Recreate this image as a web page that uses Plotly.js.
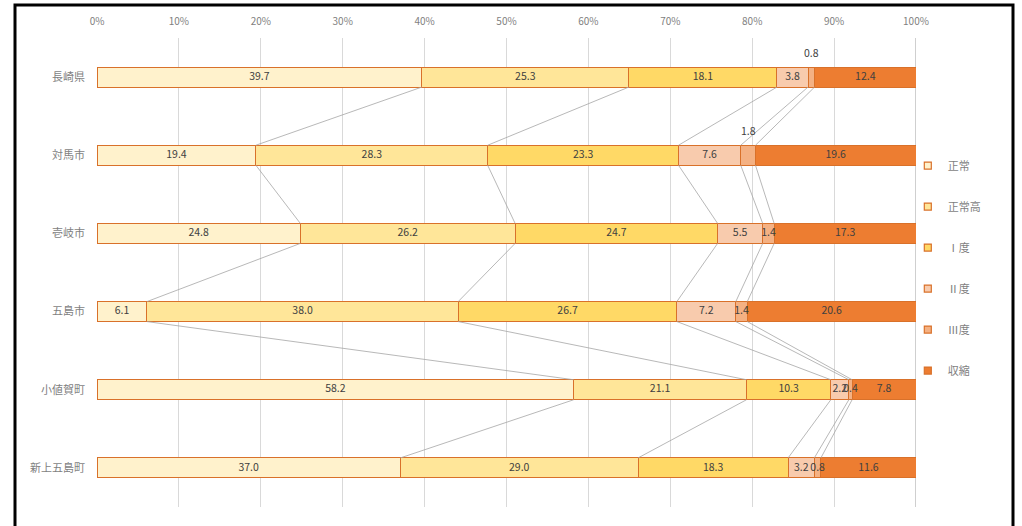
<!DOCTYPE html>
<html>
<head>
<meta charset="utf-8">
<script src="https://cdn.plot.ly/plotly-3.0.1.min.js"></script>
<style>html,body{margin:0;padding:0;background:#fff;}#chart{width:1022px;height:526px;}</style>
</head>
<body>
<div id="chart"></div>
<script>
const categories = ['長崎県','対馬市','壱岐市','五島市','小値賀町','新上五島町'];
const seriesNames = ['正常','正常高','Ⅰ度','Ⅱ度','Ⅲ度','収縮'];
const normal     = [39.7, 19.4, 24.8, 6.1, 58.2, 37.0];
const normalHigh = [25.3, 28.3, 26.2, 38.0, 21.1, 29.0];
const grade1     = [18.1, 23.3, 24.7, 26.7, 10.3, 18.3];
const grade2     = [3.8, 7.6, 5.5, 7.2, 2.2, 3.2];
const grade3     = [0.8, 1.8, 1.4, 1.4, 0.4, 0.8];
const systolic   = [12.4, 19.6, 17.3, 20.6, 7.8, 11.6];
const xTicks = [0,10,20,30,40,50,60,70,80,90,100];

const series = [normal, normalHigh, grade1, grade2, grade3, systolic];
const fills = ['#FFF2CC','#FFE699','#FFD966','#F8CBAD','#F4B183','#ED7D31'];
const edge = '#D9712A';
const barW = 0.256;
const yPos = categories.map((c,i)=>i);
const outsideIdx = {4: [0,1]};   // labels drawn above the bar
const FONT = 'Noto Sans CJK JP';

const traces = series.map((vals, s) => ({
  type: 'bar', orientation: 'h', name: seriesNames[s], showlegend: false,
  x: vals, y: yPos, width: barW,
  marker: {color: fills[s], line: {color: edge, width: 1}},
  hovertemplate: '%{y}: %{x}<extra>'+seriesNames[s]+'</extra>'
}));

// legend entries (small square markers like the reference)
series.forEach((vals, s) => traces.push({
  type: 'scatter', mode: 'markers', name: seriesNames[s], x: [null], y: [null],
  legendgroup: 'g'+s, hoverinfo: 'skip',
  marker: {symbol: 'square', size: 7, color: fills[s], line: {color: edge, width: 1.2}}
}));

// normalized cumulative boundaries (100% stacked)
const totals = categories.map((c,i)=> series.reduce((a,sv)=>a+sv[i],0));
const cum = [];
let run = categories.map(()=>0);
series.forEach((sv,k)=>{
  run = run.map((r,i)=> r + sv[i]/totals[i]*100);
  cum.push(run.slice());
});

// series lines
const lx = [], ly = [];
for (let k=0;k<series.length-1;k++){
  for (let i=0;i<categories.length-1;i++){
    lx.push(cum[k][i], cum[k][i+1], null);
    ly.push(yPos[i]+barW/2, yPos[i+1]-barW/2, null);
  }
}
traces.push({type:'scatter', mode:'lines', x: lx, y: ly, showlegend:false, hoverinfo:'skip',
  line:{color:'#A6A6A6', width:0.8}});

// data labels (drawn above all bars)
const tx = [], ty = [], tt = [];
series.forEach((sv,s)=>{
  sv.forEach((v,i)=>{
    if (outsideIdx[s] && outsideIdx[s].includes(i)) return;
    const start = s>0 ? cum[s-1][i] : 0;
    tx.push((start+cum[s][i])/2); ty.push(yPos[i]); tt.push(v.toFixed(1));
  });
});
traces.push({type:'scatter', mode:'text', x: tx, y: ty, text: tt, textposition:'middle center',
  showlegend:false, hoverinfo:'skip', cliponaxis:false,
  textfont:{size:10.5, color:'#404040', family:FONT}});

const annotations = [];
Object.keys(outsideIdx).forEach(s=>{
  s = +s;
  outsideIdx[s].forEach(i=>{
    const start = s>0 ? cum[s-1][i] : 0;
    annotations.push({x: (start+cum[s][i])/2, y: yPos[i]-barW/2, xref:'x', yref:'y',
      text: series[s][i].toFixed(1), showarrow:false, yanchor:'bottom', yshift: 5,
      font:{size:10.5, color:'#404040', family:FONT}});
  });
});

const layout = {
  width: 1022, height: 526,
  margin: {l: 97, r: 106, t: 38, b: 19},
  paper_bgcolor: '#fff', plot_bgcolor: '#fff',
  barmode: 'stack', barnorm: 'percent',
  font: {family: FONT, color: '#7F7F7F'},
  xaxis: {side: 'top', range: [0, 100], tickvals: xTicks, ticktext: xTicks.map(v=>v+'%'),
    showgrid: true, gridcolor: '#D9D9D9', gridwidth: 1, zeroline: false, showline: false,
    ticks: '', ticklabelstandoff: 10,
    tickfont: {size: 10, color: '#7F7F7F'}, fixedrange: true},
  yaxis: {range: [5.5, -0.5], tickvals: yPos, ticktext: categories, showgrid: false,
    zeroline: false, showline: false, ticks: '', ticklabelstandoff: 11,
    tickfont: {size: 11, color: '#7F7F7F'}, fixedrange: true},
  legend: {x: 0.99, xanchor: 'left', y: 0.759, yanchor: 'top', traceorder: 'grouped',
    tracegroupgap: 22, itemwidth: 30, font: {size: 11, color: '#7F7F7F'}, bgcolor: 'rgba(0,0,0,0)'},
  showlegend: true,
  annotations: annotations,
  shapes: [
    {type:'line', xref:'x', yref:'paper', x0:100, x1:100, y0:0, y1:1, line:{color:'#BFBFBF', width:1.5}, layer:'below'},
    {type:'rect', xref:'paper', yref:'paper', x0:(15-97)/819, x1:(1013-97)/819, y0:(507-540)/469, y1:(507-5)/469,
     line:{color:'#000', width:3}, fillcolor:'rgba(0,0,0,0)'}
  ]
};

Plotly.newPlot('chart', traces, layout, {displayModeBar: false});
</script>
</body>
</html>
